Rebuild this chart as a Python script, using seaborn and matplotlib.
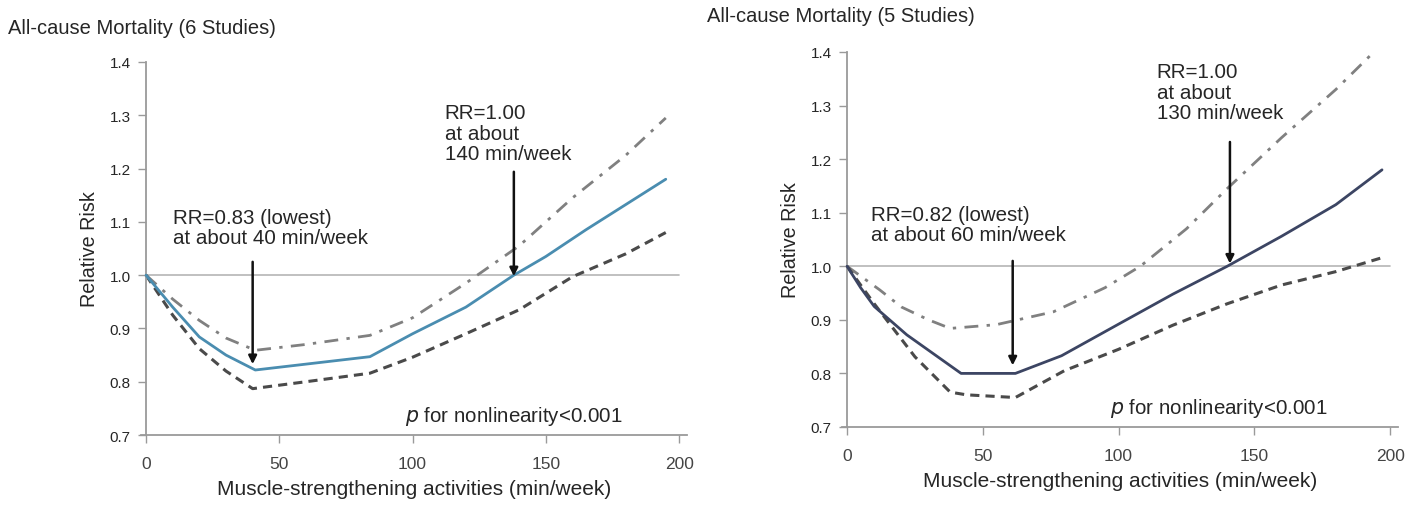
import matplotlib
matplotlib.use("Agg")
import matplotlib.pyplot as plt
import seaborn as sns
import numpy as np

sns.set_theme(style="white")
plt.rcParams['font.family'] = ['Liberation Sans', 'DejaVu Sans']

# ---------------- data ----------------
titles = ["All-cause Mortality (6 Studies)", "All-cause Mortality (5 Studies)"]
x_ticks = [0, 50, 100, 150, 200]
y_ticks = [0.7, 0.8, 0.9, 1.0, 1.1, 1.2, 1.3, 1.4]
y_tick_labels = ["0.7", "0.8", "0.9", "1.0", "1.1", "1.2", "1.3", "1.4"]

# left panel (6 studies)
L_mid_x = [0, 10, 20, 30, 41, 84, 100, 120, 138, 150, 165, 195]
L_mid_y = [1.0, 0.94, 0.884, 0.85, 0.822, 0.847, 0.89, 0.94, 1.0, 1.035, 1.085, 1.18]
L_up_x = [0, 10, 20, 30, 41, 60, 84, 100, 120, 140, 160, 180, 195]
L_up_y = [1.0, 0.955, 0.915, 0.882, 0.859, 0.87, 0.887, 0.92, 0.985, 1.055, 1.145, 1.225, 1.295]
L_lo_x = [0, 10, 20, 30, 40, 60, 84, 100, 120, 140, 160, 180, 195]
L_lo_y = [1.0, 0.925, 0.862, 0.82, 0.787, 0.80, 0.816, 0.846, 0.89, 0.935, 0.997, 1.04, 1.08]

# right panel (5 studies)
R_mid_x = [0, 5, 10, 22, 42, 62, 79, 100, 120, 140, 160, 180, 197]
R_mid_y = [1.0, 0.96, 0.925, 0.872, 0.80, 0.80, 0.833, 0.892, 0.948, 1.0, 1.056, 1.115, 1.18]
R_up_x = [0, 12, 20, 30, 38, 55, 76, 95, 108, 125, 140, 160, 180, 195]
R_up_y = [1.0, 0.956, 0.924, 0.90, 0.884, 0.891, 0.915, 0.96, 1.0, 1.07, 1.145, 1.24, 1.33, 1.405]
R_lo_x = [0, 10, 25, 38, 44, 62, 80, 100, 120, 140, 160, 180, 197]
R_lo_y = [1.0, 0.93, 0.831, 0.765, 0.76, 0.755, 0.805, 0.845, 0.89, 0.93, 0.965, 0.99, 1.016]

L_note_low = "RR=0.83 (lowest)\nat about 40 min/week"
L_note_one = "RR=1.00\nat about\n140 min/week"
R_note_low = "RR=0.82 (lowest)\nat about 60 min/week"
R_note_one = "RR=1.00\nat about\n130 min/week"

# annotation anchors: (text x, text y, arrow x, arrow start y, arrow tip y)
L_low_anno = (10, 1.089, 40, 1.025, 0.833)
L_one_anno = (112, 1.266, 138, 1.194, 0.998)
R_low_anno = (9, 1.078, 61, 1.01, 0.815)
R_one_anno = (114, 1.325, 141, 1.232, 1.005)
p_pos = (97, 0.736)

# ---------------- figure ----------------
fig = plt.figure(figsize=(14.1, 5.06), dpi=100)
axL = fig.add_axes([0.0998, 0.1383, 0.3875, 0.7372])
axR = fig.add_axes([0.5969, 0.1542, 0.3948, 0.7411])

mid_colors = ["#4a8db0", "#3c4563"]
spine_c = "#9a9a9a"
text_c = "#262626"
fs_anno = 14.8

panels = [
    (axL, L_mid_x, L_mid_y, L_up_x, L_up_y, L_lo_x, L_lo_y, L_note_low, L_note_one, L_low_anno, L_one_anno, mid_colors[0]),
    (axR, R_mid_x, R_mid_y, R_up_x, R_up_y, R_lo_x, R_lo_y, R_note_low, R_note_one, R_low_anno, R_one_anno, mid_colors[1]),
]

for ax, mx, my, ux, uy, lx, ly, nlow, none, alow, aone, mc in panels:
    ax.plot([0, 200], [1.0, 1.0], color="#b5b5b5", lw=1.2, zorder=1)
    sns.lineplot(x=ux, y=uy, ax=ax, color="#808080", lw=2.0, linestyle=(0, (5, 3, 1.2, 3)), zorder=2)
    sns.lineplot(x=lx, y=ly, ax=ax, color="#4a4a4a", lw=2.2, linestyle=(0, (3, 2)), zorder=2)
    sns.lineplot(x=mx, y=my, ax=ax, color=mc, lw=2.0, zorder=3)

    ax.set_xlim(-2, 203)
    ax.set_ylim(0.7, 1.4)
    ax.set_xticks(x_ticks)
    ax.set_xticklabels([str(t) for t in x_ticks], fontsize=12.5, color="#444444")
    ax.set_yticks(y_ticks)
    ax.set_yticklabels(y_tick_labels, fontsize=12.5, color="#444444")
    ax.spines['left'].set_position(('data', 0))
    for s in ['top', 'right']:
        ax.spines[s].set_visible(False)
    for s in ['left', 'bottom']:
        ax.spines[s].set_color(spine_c)
        ax.spines[s].set_linewidth(1.3)
    ax.tick_params(axis='both', which='major', bottom=True, left=True, direction='out',
                   length=6, width=1.0, color=spine_c, pad=5)
    ax.tick_params(axis='x', pad=9)
    ax.grid(False)
    ax.set_xlabel("Muscle-strengthening activities (min/week)", fontsize=15, color=text_c, labelpad=6)
    ax.set_ylabel("Relative Risk", fontsize=14.2, color=text_c, labelpad=8)

    ax.text(alow[0], alow[1], nlow, fontsize=fs_anno, color=text_c, ha='left', va='center', linespacing=1.1)
    ax.annotate("", xy=(alow[2], alow[4]), xytext=(alow[2], alow[3]),
                arrowprops=dict(arrowstyle="-|>", color="#111111", lw=1.8, mutation_scale=12, shrinkA=0, shrinkB=0))
    ax.text(aone[0], aone[1], none, fontsize=fs_anno, color=text_c, ha='left', va='center', linespacing=1.1)
    ax.annotate("", xy=(aone[2], aone[4]), xytext=(aone[2], aone[3]),
                arrowprops=dict(arrowstyle="-|>", color="#111111", lw=1.8, mutation_scale=12, shrinkA=0, shrinkB=0))
    ax.text(p_pos[0], p_pos[1], r"$\mathit{p}$ for nonlinearity<0.001", fontsize=fs_anno, color=text_c,
            ha='left', va='center')

fig.text(8 / 1410, 1 - 28 / 506, titles[0], fontsize=14.5, color=text_c, ha='left', va='center')
fig.text(707 / 1410, 1 - 16 / 506, titles[1], fontsize=14.5, color=text_c, ha='left', va='center')

fig.savefig("out.png", dpi=100)
